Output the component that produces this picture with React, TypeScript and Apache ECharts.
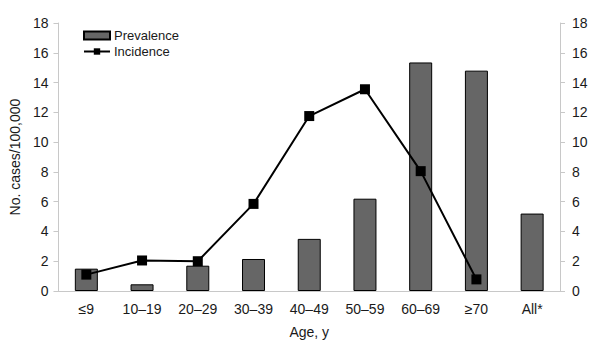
import React, { useEffect, useRef } from "react";
import * as echarts from "echarts";

const categories = ["≤9", "10–19", "20–29", "30–39", "40–49", "50–59", "60–69", "≥70", "All*"];
const prevalence = [1.5, 0.45, 1.7, 2.15, 3.5, 6.2, 15.35, 14.8, 5.2];
const incidence = [1.1, 2.05, 2.0, 5.85, 11.75, 13.55, 8.05, 0.78, null];
const yTicks = { min: 0, max: 18, interval: 2 };

export default function App() {
  const ref = useRef<HTMLDivElement>(null);
  useEffect(() => {
    document.body.style.margin = "0";
    const chart = echarts.init(ref.current!, null, { renderer: "svg" });
    const font = "'Liberation Sans', Arial, sans-serif";
    const axisCommon = {
      type: "value" as const,
      min: yTicks.min,
      max: yTicks.max,
      interval: yTicks.interval,
      axisLine: { show: true, lineStyle: { color: "#c8c8c8", width: 1 } },
      axisTick: { show: true, length: 5, lineStyle: { color: "#c8c8c8" } },
      splitLine: { show: false },
      axisLabel: { color: "#1a1a1a", fontSize: 14, fontFamily: font, margin: 10 },
    };
    chart.setOption({
      animation: false,
      backgroundColor: "#ffffff",
      textStyle: { fontFamily: font },
      grid: { left: 58, right: 40, top: 23, bottom: 60, containLabel: false },
      legend: {
        orient: "vertical",
        left: 78,
        top: 24,
        itemGap: 3,
        itemWidth: 26,
        itemHeight: 8,
        textStyle: { color: "#1a1a1a", fontSize: 13, fontFamily: font, padding: [0, 0, 0, -1] },
        data: [
          { name: "Prevalence", icon: "rect" },
          { name: "Incidence" },
        ],
      },
      xAxis: {
        type: "category",
        data: categories,
        name: "Age, y",
        nameLocation: "middle",
        nameGap: 34,
        nameTextStyle: { color: "#1a1a1a", fontSize: 14, fontFamily: font },
        axisLine: { show: true, lineStyle: { color: "#c8c8c8" } },
        axisTick: { show: false },
        axisLabel: { color: "#1a1a1a", fontSize: 14, fontFamily: font, margin: 11, interval: 0 },
      },
      yAxis: [
        {
          ...axisCommon,
          position: "left",
          name: "No. cases/100,000",
          nameLocation: "middle",
          nameGap: 36,
          nameTextStyle: { color: "#1a1a1a", fontSize: 14, fontFamily: font },
        },
        { ...axisCommon, position: "right", axisLabel: { ...axisCommon.axisLabel, margin: 12 } },
      ],
      series: [
        {
          name: "Prevalence",
          type: "bar",
          data: prevalence,
          barWidth: 23,
          itemStyle: { color: "#666666", borderColor: "#000000", borderWidth: 1 },
        },
        {
          name: "Incidence",
          type: "line",
          data: incidence,
          symbol: "rect",
          symbolSize: 10,
          lineStyle: { color: "#000000", width: 2 },
          itemStyle: { color: "#000000" },
        },
      ],
    });
    return () => chart.dispose();
  }, []);
  return <div ref={ref} style={{ width: 600, height: 351 }} />;
}
